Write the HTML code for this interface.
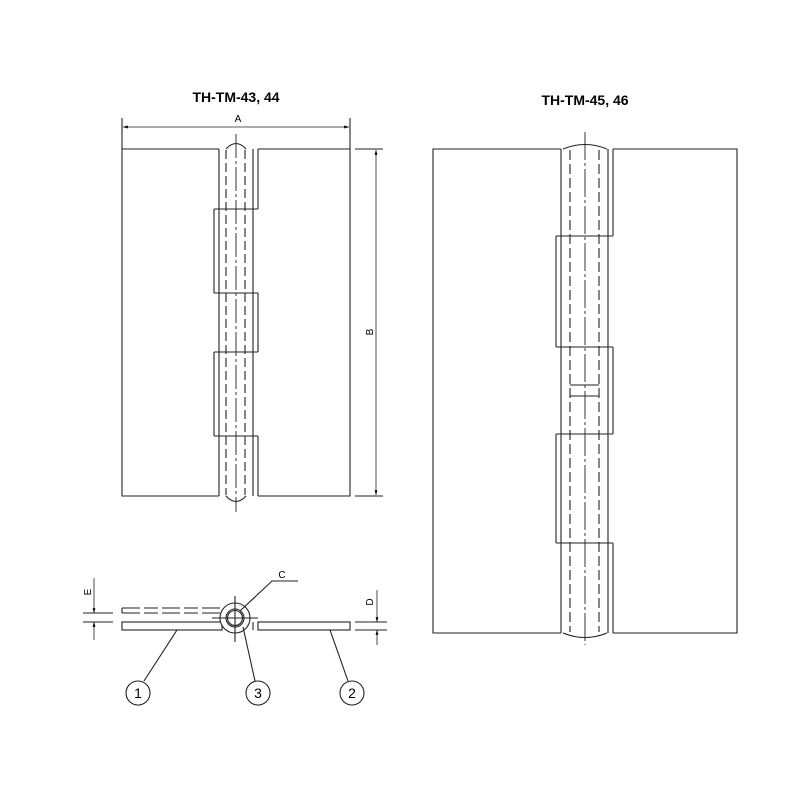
<!DOCTYPE html>
<html><head><meta charset="utf-8"><style>body{margin:0;background:#fff}svg{display:block}</style></head>
<body>
<svg width="800" height="800" viewBox="0 0 800 800" xmlns="http://www.w3.org/2000/svg" font-family="Liberation Sans, sans-serif">
<defs>
<marker id="ar" viewBox="0 0 10 10" refX="10" refY="5" markerWidth="6" markerHeight="6" orient="auto-start-reverse"><path d="M0,2 L10,5 L0,8 z" fill="#000"/></marker>
</defs>
<g stroke="#222" stroke-width="1.1" fill="none">
<!-- LEFT HINGE -->
<text x="236" y="102" font-size="14" font-weight="bold" text-anchor="middle" fill="#000" stroke="none">TH-TM-43, 44</text>
<line x1="122" y1="118" x2="122" y2="149"/><line x1="350" y1="118" x2="350" y2="149"/>
<line x1="123" y1="127" x2="349" y2="127" stroke-width="0.8" marker-start="url(#ar)" marker-end="url(#ar)"/>
<text x="238" y="122" font-size="10" text-anchor="middle" fill="#000" stroke="none">A</text>
<line x1="355" y1="149" x2="383" y2="149"/><line x1="355" y1="496" x2="383" y2="496"/>
<line x1="376" y1="150" x2="376" y2="495" stroke-width="0.8" marker-start="url(#ar)" marker-end="url(#ar)"/>
<text x="0" y="0" font-size="10" text-anchor="middle" fill="#000" stroke="none" transform="translate(373,332) rotate(-90)">B</text>
<polyline points="219,149 122,149 122,496 219,496"/>
<polyline points="258,149 350,149 350,496 258,496"/>
<line x1="219" y1="149" x2="219" y2="496"/><line x1="253" y1="149" x2="253" y2="496"/>
<line x1="258" y1="149" x2="258" y2="209"/><line x1="258" y1="293" x2="258" y2="352"/><line x1="258" y1="436" x2="258" y2="496"/>
<line x1="214" y1="209" x2="214" y2="293"/><line x1="214" y1="352" x2="214" y2="436"/>
<line x1="214" y1="209" x2="258" y2="209"/><line x1="214" y1="293" x2="258" y2="293"/>
<line x1="214" y1="352" x2="258" y2="352"/><line x1="214" y1="436" x2="258" y2="436"/>
<path d="M226,149 Q236,138 246,149"/><path d="M226,496 Q236,507 246,496"/>
<line x1="226" y1="150" x2="226" y2="495" stroke-dasharray="9,4"/>
<line x1="245" y1="150" x2="245" y2="495" stroke-dasharray="9,4"/>
<line x1="236" y1="134" x2="236" y2="512" stroke-dasharray="24,3,3,3" stroke-width="0.9"/>
<!-- RIGHT HINGE -->
<text x="585" y="105" font-size="14" font-weight="bold" text-anchor="middle" fill="#000" stroke="none">TH-TM-45, 46</text>
<polyline points="561,149 433,149 433,633 561,633"/>
<polyline points="613,149 737,149 737,633 613,633"/>
<line x1="561" y1="149" x2="561" y2="633"/><line x1="608" y1="149" x2="608" y2="633"/>
<line x1="613" y1="149" x2="613" y2="236"/><line x1="613" y1="347" x2="613" y2="434"/><line x1="613" y1="543" x2="613" y2="633"/>
<line x1="556" y1="236" x2="556" y2="347"/><line x1="556" y1="434" x2="556" y2="543"/>
<line x1="556" y1="236" x2="613" y2="236"/><line x1="556" y1="347" x2="613" y2="347"/>
<line x1="556" y1="434" x2="613" y2="434"/><line x1="556" y1="543" x2="613" y2="543"/>
<path d="M563,149 Q585,140 607,149"/><path d="M563,633 Q585,642 607,633"/>
<line x1="570" y1="150" x2="570" y2="632" stroke-dasharray="10,4"/>
<line x1="599" y1="150" x2="599" y2="632" stroke-dasharray="10,4"/>
<line x1="570" y1="385" x2="599" y2="385"/><line x1="570" y1="396" x2="599" y2="396"/>
<line x1="585" y1="132" x2="585" y2="645" stroke-dasharray="28,3,3,3" stroke-width="0.9"/>
<!-- BOTTOM VIEW -->
<rect x="122" y="622" width="100" height="8"/>
<rect x="258" y="622" width="92" height="8"/>
<line x1="253" y1="622" x2="253" y2="630"/>
<line x1="122" y1="608" x2="122" y2="613"/>
<line x1="122" y1="608" x2="222" y2="608" stroke-dasharray="18,4,14,4"/>
<line x1="122" y1="613" x2="222" y2="613" stroke-dasharray="18,4,14,4"/>
<circle cx="235" cy="618" r="15" fill="#fff"/>
<circle cx="235" cy="618" r="9"/><circle cx="235" cy="618" r="7.5"/>
<line x1="235" y1="596" x2="235" y2="642"/><line x1="212" y1="618" x2="258" y2="618"/>
<polyline points="240,611 272,581 298,581"/>
<text x="282" y="578" font-size="10" text-anchor="middle" fill="#000" stroke="none">C</text>
<!-- E dim -->
<line x1="83" y1="613" x2="113" y2="613"/><line x1="83" y1="622" x2="113" y2="622"/>
<line x1="94" y1="578" x2="94" y2="613" stroke-width="0.8" marker-end="url(#ar)"/>
<line x1="94" y1="640" x2="94" y2="622" stroke-width="0.8" marker-end="url(#ar)"/>
<text x="0" y="0" font-size="10" text-anchor="middle" fill="#000" stroke="none" transform="translate(91,592) rotate(-90)">E</text>
<!-- D dim -->
<line x1="355" y1="622" x2="387" y2="622"/><line x1="355" y1="630" x2="387" y2="630"/>
<line x1="377" y1="590" x2="377" y2="622" stroke-width="0.8" marker-end="url(#ar)"/>
<line x1="377" y1="645" x2="377" y2="630" stroke-width="0.8" marker-end="url(#ar)"/>
<text x="0" y="0" font-size="10" text-anchor="middle" fill="#000" stroke="none" transform="translate(373,602) rotate(-90)">D</text>
<!-- balloons -->
<line x1="177" y1="630" x2="144" y2="681"/>
<line x1="243" y1="627" x2="255" y2="681"/>
<line x1="330" y1="630" x2="348" y2="681"/>
<circle cx="138" cy="693" r="12"/><circle cx="258" cy="693" r="12"/><circle cx="352" cy="693" r="12"/>
<g font-size="14" text-anchor="middle" fill="#000" stroke="none">
<text x="138" y="698">1</text><text x="258" y="698">3</text><text x="352" y="698">2</text>
</g>
</g>
</svg>
</body></html>
